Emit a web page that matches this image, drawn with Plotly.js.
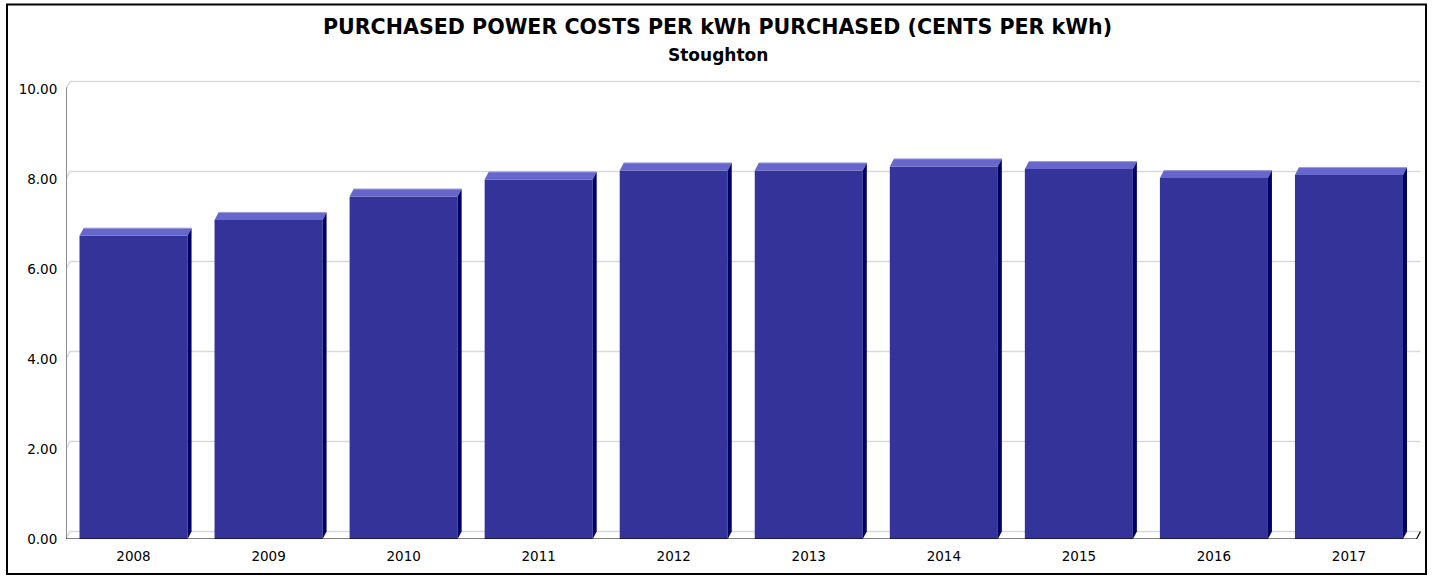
<!DOCTYPE html>
<html>
<head>
<meta charset="utf-8">
<script src="https://cdn.plot.ly/plotly-3.0.1.min.js"></script>
<style>
  html, body { margin: 0; padding: 0; background: #fff; }
  #chart { width: 1435px; height: 576px; }
</style>
</head>
<body>
<div id="chart"></div>
<script>
// ---- Data ----
const years = ['2008', '2009', '2010', '2011', '2012', '2013', '2014', '2015', '2016', '2017'];
const values = [6.74, 7.09, 7.61, 7.99, 8.19, 8.19, 8.28, 8.22, 8.02, 8.09];
const yTickValues = [0, 2, 4, 6, 8, 10];
const yTickLabels = ['0.00', '2.00', '4.00', '6.00', '8.00', '10.00'];
const titleText = 'PURCHASED POWER COSTS PER kWh PURCHASED (CENTS PER kWh)';
const subtitleText = 'Stoughton';

// ---- Geometry / styling ----
const W = 1435, H = 576;
const M = { l: 66, r: 5, t: 71, b: 37 };
const xRange = [-0.5, years.length - 0.4];
const yRange = [0, 10.4];
const plotW = W - M.l - M.r, plotH = H - M.t - M.b;
const pxPerX = plotW / (xRange[1] - xRange[0]);
const pxPerY = plotH / (yRange[1] - yRange[0]);
const dx = 4 / pxPerX;      // depth offset (x) in data units
const dy = 7.5 / pxPerY;    // depth offset (y) in data units
const halfW = 0.4;
const FRONT = '#333399', TOP = '#6666CC', SIDE = '#000066';
const FONT = 'DejaVu Sans, Verdana, sans-serif';

const xIdx = years.map((_, i) => i);
const shapes = [];

// back-wall gridlines with the little depth diagonal at the axis
yTickValues.forEach(v => {
  shapes.push({
    type: 'path', layer: 'below', xref: 'x', yref: 'y',
    path: `M ${xRange[0]},${v} L ${xRange[0] + dx},${v + dy} L ${years.length - 0.5 + dx},${v + dy}`,
    line: { color: '#d9d9d9', width: 1.5 }
  });
});

// 3D faces of the bars
values.forEach((v, i) => {
  const xl = i - halfW, xr = i + halfW;
  shapes.push({
    type: 'path', layer: 'above', xref: 'x', yref: 'y',
    path: `M ${xl},${v} L ${xl + dx},${v + dy} L ${xr + dx},${v + dy} L ${xr},${v} Z`,
    fillcolor: TOP, line: { width: 0 }
  });
  shapes.push({
    type: 'path', layer: 'above', xref: 'x', yref: 'y',
    path: `M ${xl + dx},${v + dy} L ${xr + dx},${v + dy}`,
    line: { color: '#9999dd', width: 1 }
  });
  shapes.push({
    type: 'path', layer: 'above', xref: 'x', yref: 'y',
    path: `M ${xr},0 L ${xr + dx},${dy} L ${xr + dx},${v + dy} L ${xr},${v} Z`,
    fillcolor: SIDE, line: { width: 0 }
  });
});

// y axis line (gray) and x axis front line (black) with right-end diagonal
shapes.push({
  type: 'line', layer: 'above', xref: 'x', yref: 'y',
  x0: xRange[0], x1: xRange[0], y0: 0, y1: 10 + dy * 0.2,
  line: { color: '#8c8c8c', width: 2 }
});
shapes.push({
  type: 'path', layer: 'above', xref: 'x', yref: 'y',
  path: `M ${xRange[0]},0 L ${years.length - 0.5},0 L ${years.length - 0.5 + dx},${dy}`,
  line: { color: '#000000', width: 1.2 }
});

// outer chart border
const pX = px => (px - M.l) / plotW;
const pY = py => (H - M.b - py) / plotH;
shapes.push({
  type: 'rect', layer: 'above', xref: 'paper', yref: 'paper',
  x0: pX(7), x1: pX(1426), y0: pY(574), y1: pY(4.5),
  line: { color: '#000000', width: 2 }, fillcolor: 'rgba(0,0,0,0)'
});

const trace = {
  type: 'bar',
  x: xIdx,
  y: values,
  width: halfW * 2,
  marker: { color: FRONT, line: { width: 0 } },
  hoverinfo: 'x+y',
  showlegend: false
};

const layout = {
  width: W, height: H,
  margin: M,
  paper_bgcolor: '#ffffff',
  plot_bgcolor: '#ffffff',
  showlegend: false,
  title: {
    text: '<b>' + titleText + '</b>',
    x: 0.5, xanchor: 'center',
    y: 1 - 27 / H, yanchor: 'middle', yref: 'container',
    font: { family: FONT, size: 20.6, color: '#000000' }
  },
  annotations: [{
    text: '<b>' + subtitleText + '</b>',
    xref: 'paper', yref: 'paper',
    x: pX(718), y: pY(55), xanchor: 'center', yanchor: 'middle',
    showarrow: false,
    font: { family: FONT, size: 17, color: '#000000' }
  }],
  xaxis: {
    range: xRange,
    tickvals: xIdx,
    ticktext: years,
    showgrid: false, zeroline: false, showline: false,
    ticks: 'outside', ticklen: 5, tickcolor: 'rgba(0,0,0,0)',
    tickfont: { family: FONT, size: 13.5, color: '#000000' },
    fixedrange: true
  },
  yaxis: {
    range: yRange,
    tickvals: yTickValues,
    ticktext: yTickLabels,
    showgrid: false, zeroline: false, showline: false,
    ticks: 'outside', ticklen: 5, tickcolor: 'rgba(0,0,0,0)',
    tickfont: { family: FONT, size: 13.5, color: '#000000' },
    fixedrange: true
  },
  shapes: shapes
};

Plotly.newPlot('chart', [trace], layout, { displayModeBar: false, staticPlot: true });
</script>
</body>
</html>
